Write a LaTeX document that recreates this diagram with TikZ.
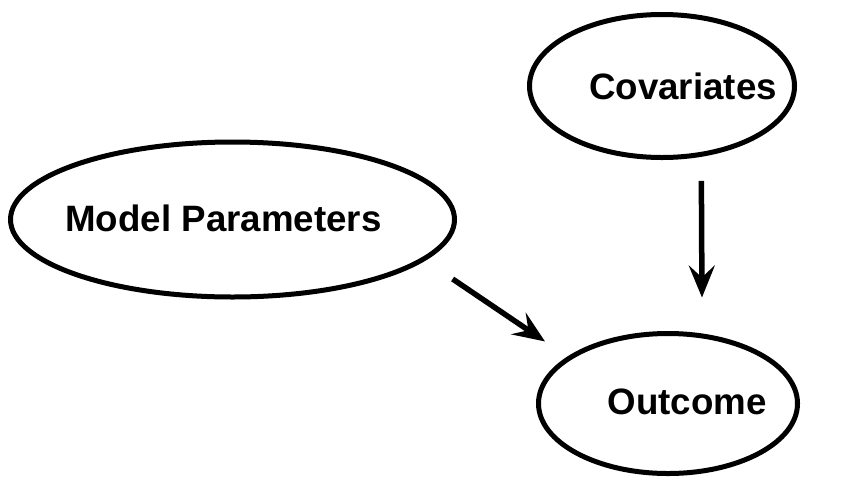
\documentclass[tikz,border=0pt]{standalone}
\usepackage{fontspec}
\setmainfont{Liberation Sans}
\usetikzlibrary{shapes.geometric,arrows.meta}

\tikzset{
    nodo/.style={ellipse, draw, line width=5pt, inner sep=0pt},
    texto/.style={font=\fontsize{36.7}{44}\selectfont\bfseries},
    flecha/.style={line width=5.5pt, -{Stealth[length=32pt,width=26pt,inset=12pt]}}
}

\begin{document}
\begin{tikzpicture}[x=1pt, y=-1pt]
    \useasboundingbox (0,0) rectangle (845,480);

    % Nodos
    \node[nodo, minimum width=444pt, minimum height=155pt,
          label={[texto, xshift=-9pt, yshift=1.5pt]center:Model Parameters}]
          (mp) at (232.5,219.5) {};
    \node[nodo, minimum width=265pt, minimum height=143pt,
          label={[texto, xshift=21pt]center:Covariates}]
          (cov) at (662,86) {};
    \node[nodo, minimum width=259pt, minimum height=140pt,
          label={[texto, xshift=19pt, yshift=2pt]center:Outcome}]
          (out) at (668,403.5) {};

    % Flechas
    \draw[flecha, shorten <=24pt, shorten >=36pt] (cov.-61) -- (out.64.7);
    \draw[flecha, shorten <=33pt, shorten >=27pt] (mp.-12) -- (out.155.3);
\end{tikzpicture}
\end{document}
